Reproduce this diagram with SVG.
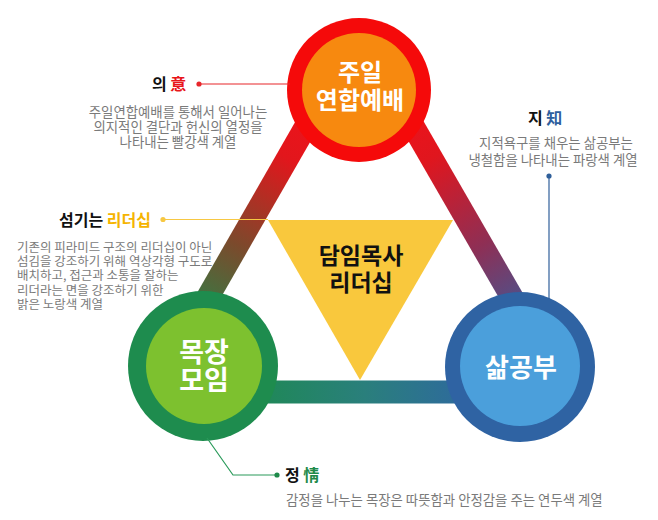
<svg xmlns="http://www.w3.org/2000/svg" width="658" height="520" viewBox="0 0 658 520">
  <defs>
    <linearGradient id="gLeft" gradientUnits="userSpaceOnUse" x1="321" y1="100" x2="154" y2="391">
      <stop offset="0" stop-color="#f0121a"/>
      <stop offset="0.2" stop-color="#e2161c"/>
      <stop offset="0.5" stop-color="#7b4a2c"/>
      <stop offset="0.8" stop-color="#1f8a4c"/>
      <stop offset="1" stop-color="#1e8c4e"/>
    </linearGradient>
    <linearGradient id="gRight" gradientUnits="userSpaceOnUse" x1="398" y1="100" x2="566" y2="391">
      <stop offset="0" stop-color="#f0121a"/>
      <stop offset="0.2" stop-color="#e0161e"/>
      <stop offset="0.5" stop-color="#8e2f55"/>
      <stop offset="0.78" stop-color="#3a5c9c"/>
      <stop offset="1" stop-color="#2f63a3"/>
    </linearGradient>
    <linearGradient id="gBottom" gradientUnits="userSpaceOnUse" x1="240" y1="0" x2="490" y2="0">
      <stop offset="0" stop-color="#1d8a50"/>
      <stop offset="0.5" stop-color="#2a7f7c"/>
      <stop offset="1" stop-color="#2f65a5"/>
    </linearGradient>
  </defs>
  <style>
    .band { fill: none; stroke-width: 23; stroke-linecap: butt; }
    .circ-text { font-family: "Noto Sans CJK KR", "Noto Sans", sans-serif; font-weight: bold; fill: #ffffff; text-anchor: middle; }
    .center-text { font-family: "Noto Sans CJK KR", "Noto Sans", sans-serif; font-weight: bold; fill: #111111; text-anchor: middle; font-size: 23px; }
    .head { font-family: "Noto Sans CJK KR", "Noto Sans", sans-serif; font-weight: bold; font-size: 16px; fill: #111111; }
    .desc { font-family: "Noto Sans CJK KR", "Noto Sans", sans-serif; font-size: 13.4px; fill: #7a7a7a; }
    .desc-left { font-family: "Noto Sans CJK KR", "Noto Sans", sans-serif; font-size: 12.5px; fill: #7a7a7a; }
    .lead { fill: none; stroke-width: 1.2; }
  </style>

  <g id="connectors">
    <line class="band" x1="321" y1="100" x2="154" y2="391" stroke="url(#gLeft)"/>
    <line class="band" x1="398" y1="100" x2="566" y2="391" stroke="url(#gRight)"/>
    <line class="band" x1="203" y1="392" x2="520" y2="392" stroke="url(#gBottom)"/>
  </g>

  <g id="node-worship">
    <circle cx="359" cy="90" r="72" fill="#f50a0a"/>
    <circle cx="359" cy="90" r="57" fill="#f7890f"/>
    <text class="circ-text" x="360" y="81" font-size="24">주일</text>
    <text class="circ-text" x="360" y="109" font-size="24">연합예배</text>
  </g>

  <g id="node-mokjang">
    <circle cx="203" cy="366" r="75" fill="#1e8c4e"/>
    <circle cx="204" cy="366" r="58" fill="#7dc12f"/>
    <text class="circ-text" x="204" y="362" font-size="27">목장</text>
    <text class="circ-text" x="204" y="390" font-size="27">모임</text>
  </g>

  <g id="node-study">
    <circle cx="520" cy="367" r="75" fill="#2f63a3"/>
    <circle cx="520" cy="366" r="60" fill="#4b9fdb"/>
    <text class="circ-text" x="521" y="377" font-size="26">삶공부</text>
  </g>

  <g id="node-leadership">
    <polygon points="268,220 453,220 360,380" fill="#f9c83d"/>
    <text class="center-text" x="361" y="264">담임목사</text>
    <text class="center-text" x="361" y="291">리더십</text>
  </g>

  <g id="label-will">
    <line class="lead" x1="199" y1="84" x2="290" y2="84" stroke="#e8262b"/>
    <circle cx="199" cy="84" r="2.6" fill="#e8262b"/>
    <text class="head" x="152" y="90">의 <tspan fill="#e8161b">意</tspan></text>
    <text class="desc" x="178" y="117" text-anchor="middle">주일연합예배를 통해서 일어나는</text>
    <text class="desc" x="178" y="132" text-anchor="middle">의지적인 결단과 헌신의 열정을</text>
    <text class="desc" x="178" y="147" text-anchor="middle">나타내는 빨강색 계열</text>
  </g>

  <g id="label-knowledge">
    <line class="lead" x1="549" y1="176" x2="549" y2="299" stroke="#2f5f9a"/>
    <circle cx="549" cy="176" r="2.6" fill="#2f5f9a"/>
    <text class="head" x="528" y="124">지 <tspan fill="#2e5f9e">知</tspan></text>
    <text class="desc" x="556" y="148" text-anchor="middle">지적욕구를 채우는 삶공부는</text>
    <text class="desc" x="553" y="165" text-anchor="middle">냉철함을 나타내는 파랑색 계열</text>
  </g>

  <g id="label-servant">
    <line class="lead" x1="163" y1="219.5" x2="268" y2="219.5" stroke="#f7c843"/>
    <circle cx="163" cy="219.5" r="2.6" fill="#f7c843"/>
    <text class="head" x="59" y="226" font-size="15">섬기는 <tspan fill="#f5b400">리더십</tspan></text>
    <text class="desc-left" x="17" y="252">기존의 피라미드 구조의 리더십이 아닌</text>
    <text class="desc-left" x="17" y="266.2">섬김을 강조하기 위해 역상각형 구도로</text>
    <text class="desc-left" x="17" y="280.4">배치하고, 접근과 소통을 잘하는</text>
    <text class="desc-left" x="17" y="294.6">리더라는 면을 강조하기 위한</text>
    <text class="desc-left" x="17" y="308.8">밝은 노랑색 계열</text>
  </g>

  <g id="label-emotion">
    <polyline class="lead" points="207,438 233,475 277,475" stroke="#2a9a5a"/>
    <circle cx="277" cy="475" r="2.6" fill="#1e8a4a"/>
    <text class="head" x="285" y="481">정 <tspan fill="#1e8a4a">情</tspan></text>
    <text class="desc" x="286" y="505">감정을 나누는 목장은 따뜻함과 안정감을 주는 연두색 계열</text>
  </g>
</svg>
